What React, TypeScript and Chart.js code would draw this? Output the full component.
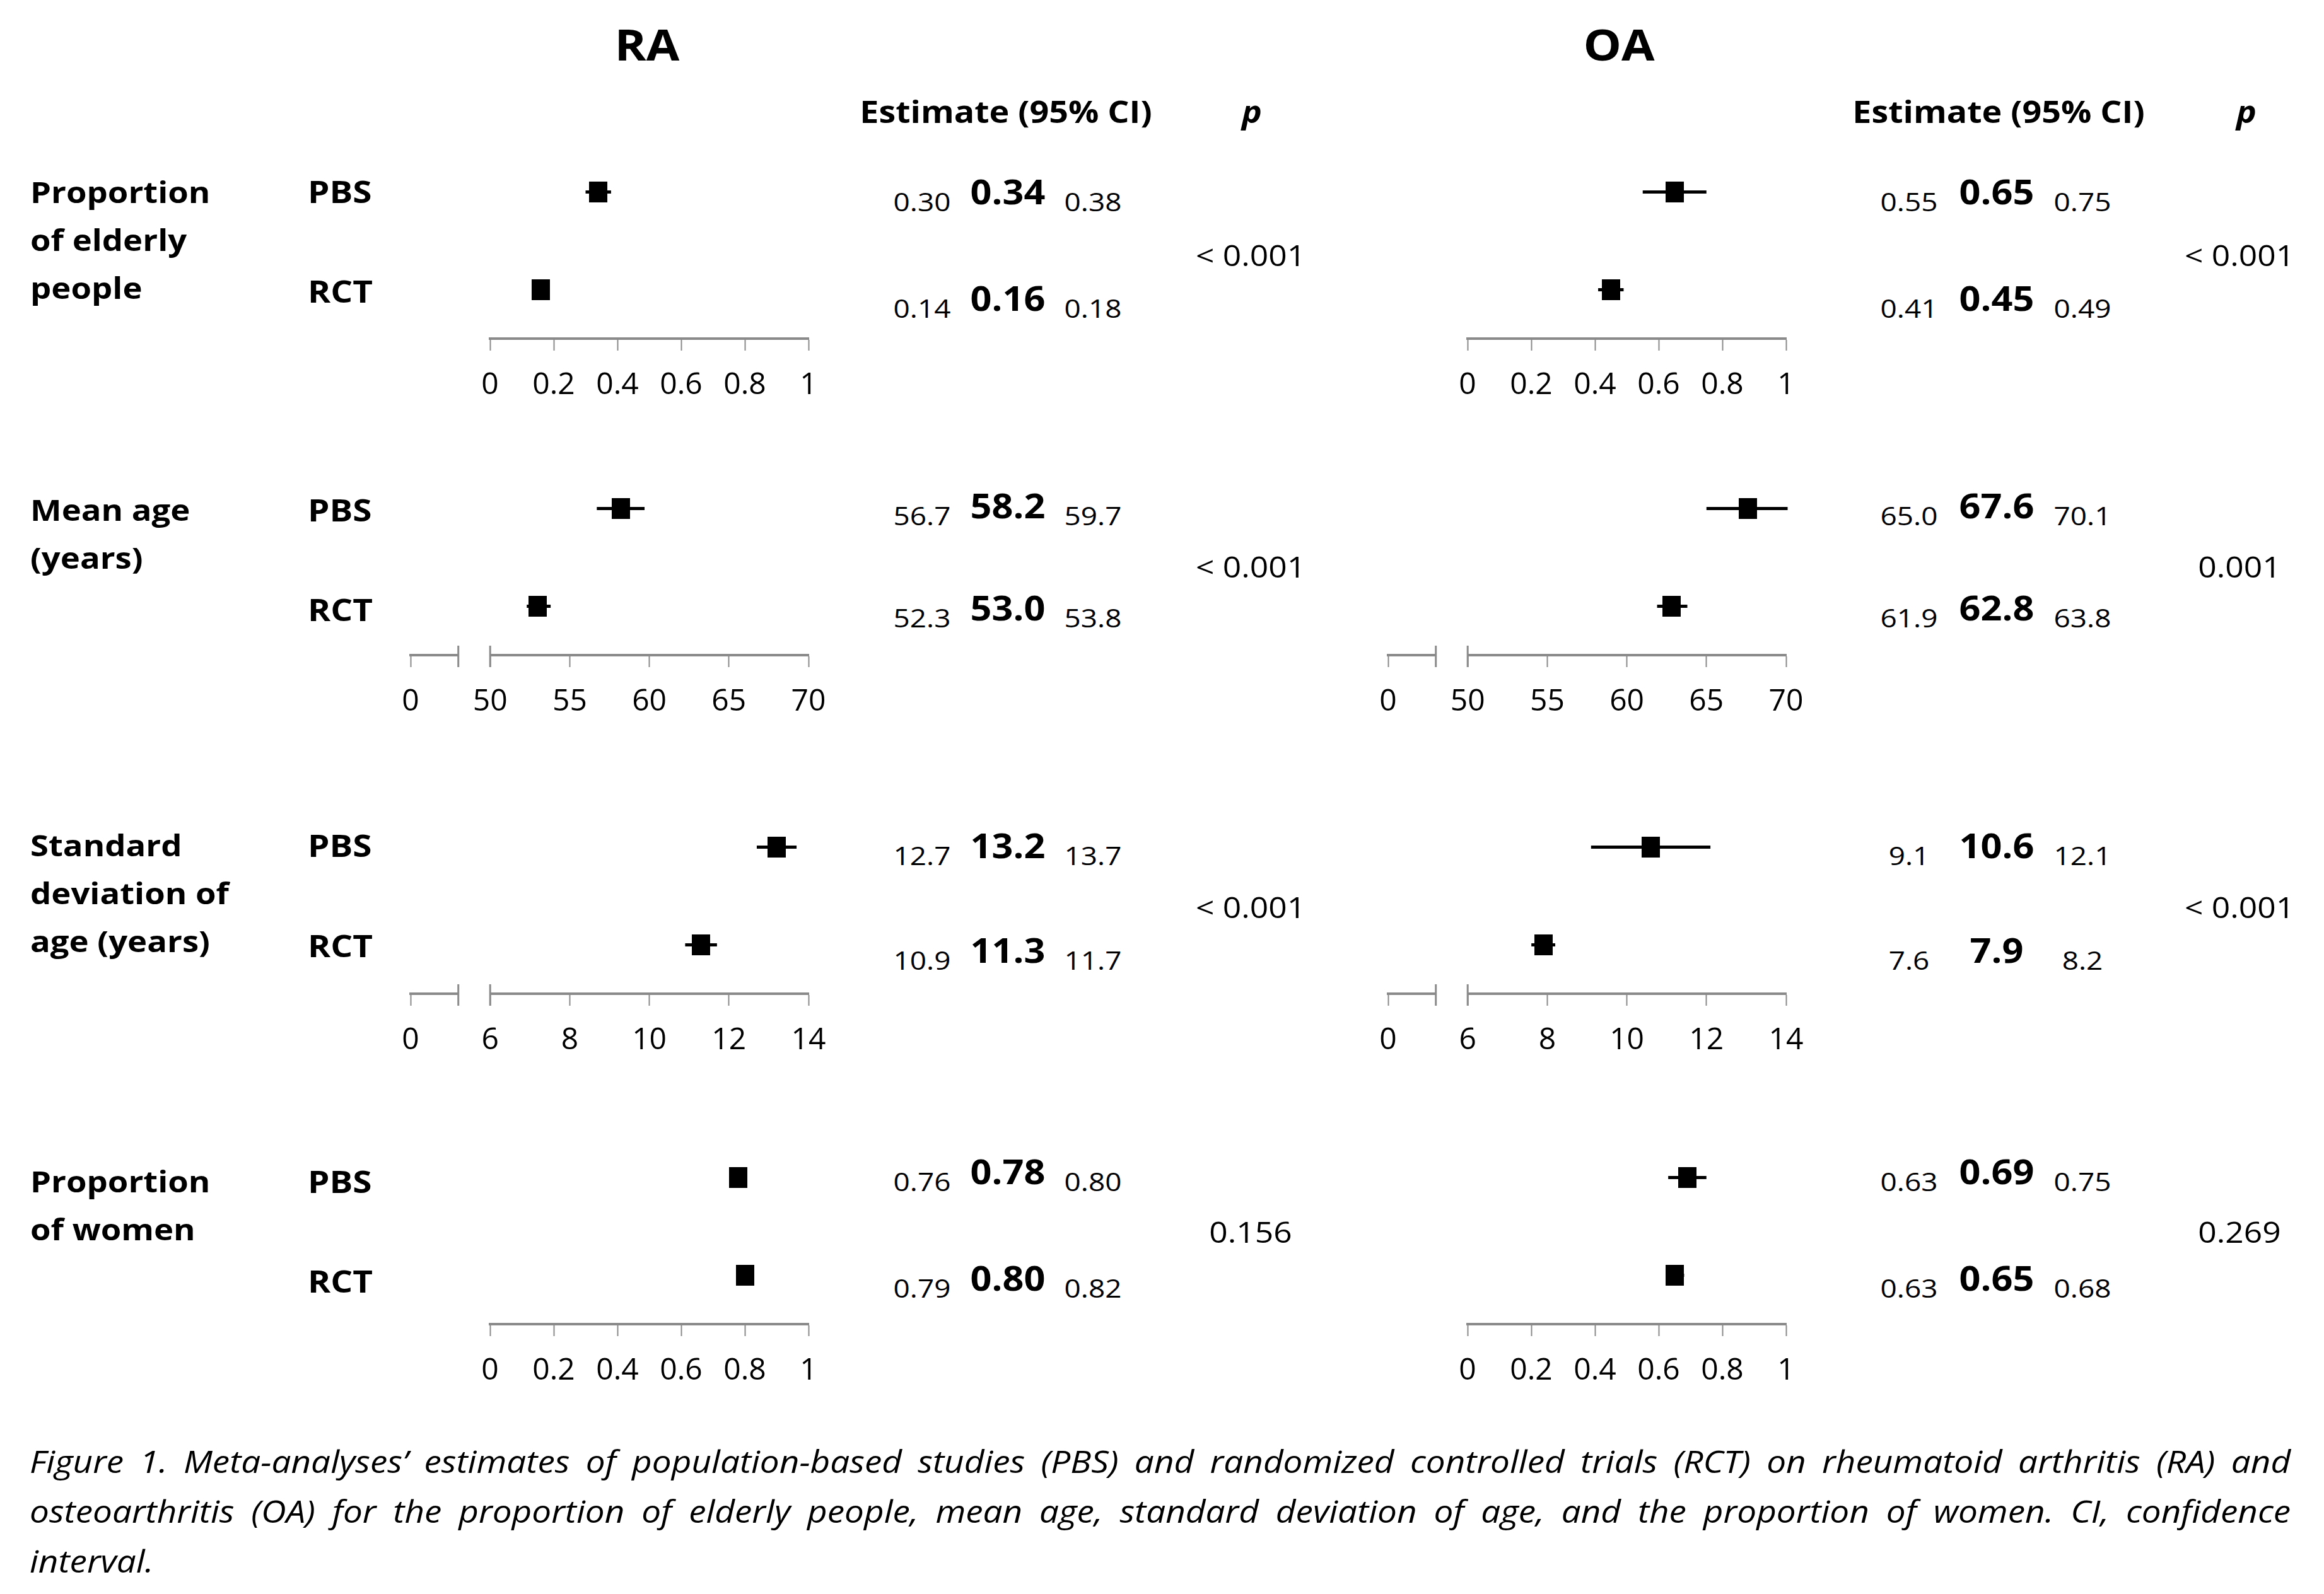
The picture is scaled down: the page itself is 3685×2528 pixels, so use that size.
import React, { useEffect, useRef } from "react";
import { Chart, registerables } from "chart.js";

Chart.register(...registerables);

// ---------------- data ----------------
const diseases = ["RA", "OA"];
const groups = ["PBS", "RCT"];
const sectionLabels = [
  ["Proportion", "of elderly", "people"],
  ["Mean age", "(years)"],
  ["Standard", "deviation of", "age (years)"],
  ["Proportion", "of women"],
];
const decimals = [2, 1, 1, 2];

// [section][PBS, RCT]
const raEstimate = [[0.34, 0.16], [58.2, 53.0], [13.2, 11.3], [0.78, 0.8]];
const raLower = [[0.3, 0.14], [56.7, 52.3], [12.7, 10.9], [0.76, 0.79]];
const raUpper = [[0.38, 0.18], [59.7, 53.8], [13.7, 11.7], [0.8, 0.82]];
const raP = ["< 0.001", "< 0.001", "< 0.001", "0.156"];

const oaEstimate = [[0.65, 0.45], [67.6, 62.8], [10.6, 7.9], [0.69, 0.65]];
const oaLower = [[0.55, 0.41], [65.0, 61.9], [9.1, 7.6], [0.63, 0.63]];
const oaUpper = [[0.75, 0.49], [70.1, 63.8], [12.1, 8.2], [0.75, 0.68]];
const oaP = ["< 0.001", "0.001", "< 0.001", "0.269"];

const propTicks = [0, 0.2, 0.4, 0.6, 0.8, 1];
const propTickLabels = ["0", "0.2", "0.4", "0.6", "0.8", "1"];
const ageTicks = [45, 50, 55, 60, 65, 70];
const ageTickLabels = ["0", "50", "55", "60", "65", "70"];
const sdTicks = [4, 6, 8, 10, 12, 14];
const sdTickLabels = ["0", "6", "8", "10", "12", "14"];
const ageBreak = [48, 50];
const sdBreak = [5.2, 6];

const sectionTicks = [propTicks, ageTicks, sdTicks, propTicks];
const sectionTickLabels = [propTickLabels, ageTickLabels, sdTickLabels, propTickLabels];
const sectionBreaks: (number[] | null)[] = [null, ageBreak, sdBreak, null];

const groupY = [3, 1]; // PBS row, RCT row on the hidden y scale

const estimates = [raEstimate, oaEstimate];
const lowers = [raLower, oaLower];
const uppers = [raUpper, oaUpper];
const pValues = [raP, oaP];

const captionLines = [
  "Figure 1. Meta-analyses\u2019 estimates of population-based studies (PBS) and randomized controlled trials (RCT) on rheumatoid arthritis (RA) and",
  "osteoarthritis (OA) for the proportion of elderly people, mean age, standard deviation of age, and the proportion of women. CI, confidence",
  "interval.",
];

// ---------------- layout ----------------
const FONT = "'Open Sans', 'Liberation Sans', sans-serif";
const GREY = "#8a8a8a";
const SX = 1.12;
const AXIS_Y = [537, 1039, 1576, 2100];
const AXIS_LEFT = [777, 2327];
const AXIS_W = 505;
const BREAK_EXT = 126;
const PAD_X = 70;
const PAD_T = 30;
const AREA_H = 310;
const TICK_FONT = 48;
const SCALE_H = 19 + TICK_FONT + 62;

const TITLE_X = [1026, 2567];
const EST_HEAD_X = [1595, 3169];
const P_HEAD_X = [1985, 3562];
const EST_COLS = [[1462, 1598, 1733], [3027, 3166, 3302]];
const P_X = [1983, 3551];
const BOLD_Y = [[303, 472], [801, 963], [1340, 1506], [1857, 2026]];
const P_Y = [404, 898, 1438, 1953];
const LABEL_Y = [304, 808, 1340, 1873];
const GROUP_LABEL_Y = [[303, 461], [808, 966], [1340, 1499], [1873, 2031]];

const breakPlugin = {
  id: "axisBreak",
  afterDraw(chart: any, _args: any, opts: any) {
    const range = opts && opts.range;
    if (!range) return;
    const xs = chart.scales.x;
    const ctx = chart.ctx;
    const a = xs.getPixelForValue(range[0]);
    const b = xs.getPixelForValue(range[1]);
    const y = xs.top;
    ctx.save();
    ctx.fillStyle = "#ffffff";
    ctx.fillRect(a + 1, y - 5, b - a - 2, 10);
    ctx.strokeStyle = GREY;
    ctx.lineWidth = 3;
    ctx.beginPath();
    [a, b].forEach((x) => {
      ctx.moveTo(x, y - 15);
      ctx.lineTo(x, y + 19);
    });
    ctx.stroke();
    ctx.restore();
  },
};

function makeMarker() {
  const c = document.createElement("canvas");
  c.width = 29;
  c.height = 33;
  const g = c.getContext("2d")!;
  g.fillStyle = "#000";
  g.fillRect(0, 0, 29, 33);
  return c;
}

function ForestPanel({ d, s }: { d: number; s: number }) {
  const ref = useRef<HTMLCanvasElement>(null);
  const brk = sectionBreaks[s];
  const areaLeft = AXIS_LEFT[d] - (brk ? BREAK_EXT : 0);
  const areaW = AXIS_W + (brk ? BREAK_EXT : 0);
  const cw = areaW + 2 * PAD_X;
  const ch = PAD_T + AREA_H + SCALE_H;
  const top = AXIS_Y[s] - AREA_H - PAD_T;

  useEffect(() => {
    if (!ref.current) return;
    const est = estimates[d][s];
    const lo = lowers[d][s];
    const hi = uppers[d][s];
    const ticks = sectionTicks[s];
    const labels = sectionTickLabels[s];
    const marker = makeMarker();
    const datasets: any[] = groups.map((g, i) => ({
      type: "line",
      label: g + " 95% CI",
      data: [
        { x: lo[i], y: groupY[i] },
        { x: hi[i], y: groupY[i] },
      ],
      borderColor: "#000",
      borderWidth: 5,
      pointRadius: 0,
      showLine: true,
      clip: false,
      order: 2,
    }));
    datasets.push({
      type: "scatter",
      label: "Estimate",
      data: groups.map((_g, i) => ({ x: est[i], y: groupY[i] })),
      pointStyle: marker,
      pointRadius: 16,
      backgroundColor: "#000",
      borderWidth: 0,
      clip: false,
      order: 1,
    });
    const chart = new Chart(ref.current, {
      type: "scatter",
      data: { datasets },
      plugins: [breakPlugin as any],
      options: {
        animation: false,
        responsive: false,
        maintainAspectRatio: false,
        events: [],
        layout: { padding: { left: PAD_X, right: PAD_X, top: PAD_T, bottom: 0 } },
        plugins: {
          legend: { display: false },
          tooltip: { enabled: false },
          axisBreak: { range: brk },
        } as any,
        scales: {
          x: {
            type: "linear",
            min: ticks[0],
            max: ticks[ticks.length - 1],
            afterBuildTicks: (sc: any) => {
              sc.ticks = ticks.map((v) => ({ value: v }));
            },
            ticks: {
              autoSkip: false,
              maxRotation: 0,
              padding: 31,
              color: "#000",
              font: { family: "Open Sans", size: TICK_FONT, lineHeight: 1 },
              callback: (_v: any, i: number) => labels[i],
            },
            grid: {
              drawOnChartArea: false,
              drawTicks: true,
              tickLength: 19,
              tickWidth: 2,
              tickColor: GREY,
              color: GREY,
            },
            border: { display: true, color: GREY, width: 4 },
          },
          y: { type: "linear", min: 0, max: 4, display: false },
        },
      } as any,
    });
    return () => chart.destroy();
  }, [d, s]);

  return (
    <canvas
      ref={ref}
      width={cw}
      height={ch}
      style={{ position: "absolute", left: areaLeft - PAD_X, top, width: cw, height: ch }}
    />
  );
}

function T(props: {
  x: number;
  y: number;
  text: string;
  size: number;
  bold?: boolean;
  italic?: boolean;
  left?: boolean;
}) {
  const { x, y, text, size, bold, italic, left } = props;
  return (
    <div
      style={{
        position: "absolute",
        left: x,
        top: y,
        transform: `translate(${left ? "0" : "-50%"}, -50%) scaleX(${SX})`,
        transformOrigin: left ? "left center" : "center center",
        whiteSpace: "nowrap",
        fontFamily: FONT,
        fontSize: size,
        fontWeight: bold ? 700 : 400,
        fontStyle: italic ? "italic" : "normal",
        lineHeight: 1,
        color: "#000",
      }}
    >
      {text}
    </div>
  );
}

export default function App() {
  const items: React.ReactNode[] = [];
  diseases.forEach((dz, d) => {
    items.push(<T key={"t" + d} x={TITLE_X[d]} y={70} text={dz} size={68} bold />);
    items.push(<T key={"eh" + d} x={EST_HEAD_X[d]} y={177} text="Estimate (95% CI)" size={48} bold />);
    items.push(<T key={"ph" + d} x={P_HEAD_X[d]} y={177} text="p" size={48} bold italic />);
    sectionLabels.forEach((_lab, s) => {
      items.push(<ForestPanel key={`c${d}-${s}`} d={d} s={s} />);
      groups.forEach((_g, i) => {
        const by = BOLD_Y[s][i];
        const dec = decimals[s];
        items.push(
          <T key={`lo${d}${s}${i}`} x={EST_COLS[d][0]} y={by + 16} text={lowers[d][s][i].toFixed(dec)} size={41} />
        );
        items.push(
          <T key={`es${d}${s}${i}`} x={EST_COLS[d][1]} y={by} text={estimates[d][s][i].toFixed(dec)} size={53} bold />
        );
        items.push(
          <T key={`hi${d}${s}${i}`} x={EST_COLS[d][2]} y={by + 16} text={uppers[d][s][i].toFixed(dec)} size={41} />
        );
      });
      items.push(<T key={`p${d}${s}`} x={P_X[d]} y={P_Y[s]} text={pValues[d][s]} size={46} />);
    });
  });
  sectionLabels.forEach((lines, s) => {
    lines.forEach((ln, k) => {
      items.push(<T key={`sl${s}${k}`} x={48} y={LABEL_Y[s] + k * 76} text={ln} size={47} bold left />);
    });
    groups.forEach((g, i) => {
      items.push(<T key={`gl${s}${i}`} x={488} y={GROUP_LABEL_Y[s][i]} text={g} size={49} bold left />);
    });
  });

  return (
    <div
      style={{
        position: "fixed",
        left: 0,
        top: 0,
        width: 3685,
        height: 2528,
        background: "#fff",
        overflow: "hidden",
      }}
    >
      {items}
      {captionLines.map((ln, k) => (
        <div
          key={"cap" + k}
          style={{
            position: "absolute",
            left: 47,
            width: Math.floor(3586 / SX),
            top: 2317 + k * 79,
            transform: `translateY(-50%) scaleX(${SX})`,
            transformOrigin: "left center",
            fontFamily: FONT,
            fontStyle: "italic",
            fontSize: 49,
            lineHeight: 1,
            textAlign: "justify",
            textAlignLast: k < 2 ? "justify" : "left",
            color: "#000",
          }}
        >
          {ln}
        </div>
      ))}
    </div>
  );
}
